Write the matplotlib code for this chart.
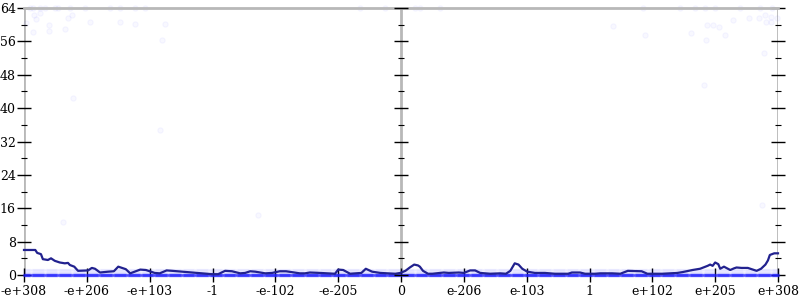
import numpy as np
import matplotlib
matplotlib.use("Agg")
import matplotlib.pyplot as plt

# tick labels along the ordinal axis of doubles
x_labels = ["-e+308", "-e+206", "-e+103", "-1", "-e-102", "-e-205", "0",
            "e-206", "e-103", "1", "e+102", "e+205", "e+308"]

# averaged error (bits) along the ordinal axis (0..12)
avg_x = [0.00, 0.18, 0.21, 0.27, 0.30, 0.38, 0.43, 0.49, 0.57, 0.65, 0.70,
         0.73, 0.80, 0.86, 0.86, 1.02, 1.08, 1.13, 1.21, 1.34, 1.43, 1.50,
         1.56, 1.62, 1.69, 1.85, 1.94, 2.08, 2.16, 2.27, 2.36, 2.99, 3.09,
         3.20, 3.31, 3.44, 3.52, 3.60, 3.68, 3.84, 3.95, 4.07, 4.17, 4.39,
         4.47, 4.55, 4.71, 4.95, 5.00, 5.08, 5.19, 5.37, 5.44, 5.54, 5.67,
         5.91, 5.99, 6.07, 6.14, 6.21, 6.27, 6.30, 6.35, 6.43, 6.50, 6.68,
         6.76, 6.92, 7.00, 7.10, 7.18, 7.26, 7.42, 7.58, 7.67, 7.74, 7.81,
         7.87, 7.93, 8.01, 8.13, 8.29, 8.45, 8.66, 8.72, 8.85, 8.93, 9.09,
         9.17, 9.36, 9.49, 9.61, 9.83, 9.92, 10.16, 10.40, 10.48, 10.64,
         10.76, 10.88, 10.92, 10.96, 11.00, 11.05, 11.08, 11.14, 11.24,
         11.30, 11.34, 11.42, 11.52, 11.66, 11.73, 11.80, 11.84, 11.87,
         11.94, 12.00]
avg_y = [6.0, 6.0, 5.3, 5.0, 3.8, 3.6, 4.0, 3.4, 3.0, 2.8, 2.9,
         2.4, 2.0, 1.0, 1.0, 1.1, 1.7, 1.5, 0.6, 0.8, 0.9, 2.0,
         1.7, 1.4, 0.4, 1.3, 1.2, 0.5, 0.4, 1.1, 1.0, 0.2, 0.2,
         1.0, 0.9, 0.4, 0.5, 0.9, 0.8, 0.4, 0.5, 0.9, 0.9, 0.4,
         0.4, 0.6, 0.5, 0.3, 1.3, 1.2, 0.3, 0.5, 1.5, 0.8, 0.5,
         0.3, 0.5, 1.0, 1.8, 2.5, 2.3, 2.0, 1.0, 0.3, 0.3, 0.6,
         0.5, 0.6, 0.5, 1.1, 1.1, 0.5, 0.3, 0.4, 0.3, 1.0, 2.8,
         2.5, 1.5, 0.8, 0.5, 0.5, 0.3, 0.3, 0.6, 0.6, 0.3, 0.3,
         0.4, 0.4, 0.3, 1.0, 0.9, 0.3, 0.3, 0.5, 0.7, 1.2,
         1.5, 2.2, 2.5, 2.2, 3.0, 2.6, 1.5, 2.0, 1.2,
         1.6, 1.8, 1.7, 1.7, 1.0, 1.5, 2.5, 3.5, 4.8,
         5.2, 5.2]

# faint individual samples with large error
top_x = [0.10, 0.14, 0.25, 0.33, 0.49, 0.54, 0.73, 0.97, 1.37, 1.53, 1.77, 1.93,
         0.16, 0.19, 0.25, 0.40, 0.03, 0.14, 0.40, 0.65, 0.70, 0.76, 1.05,
         1.53, 1.77, 2.24, 2.20, 0.78, 2.16, 0.62, 3.72, 11.75,
         5.35, 5.75, 6.22, 6.30, 6.62,
         9.85, 10.44, 10.68, 10.84, 11.00, 11.40, 11.71, 11.90,
         9.37, 9.88, 10.87, 10.97, 11.06, 10.62, 10.85, 11.16, 11.28,
         11.54, 11.70, 11.79, 11.89, 11.81, 11.89, 11.98, 11.78, 10.82]
top_y = [64, 64, 64, 64, 64, 64, 64, 64, 64, 64, 64, 64,
         62.3, 61.3, 62.7, 60.0, 60.4, 58.3, 58.5, 59.0, 61.6, 62.3, 60.7,
         60.7, 60.2, 60.2, 56.4, 42.4, 34.8, 12.7, 14.4, 16.8,
         64, 64, 64, 64, 64,
         64, 64, 64, 64, 64, 64, 64, 64,
         59.7, 57.6, 59.9, 59.9, 59.5, 58.0, 56.3, 57.6, 61.2,
         61.6, 61.6, 62.3, 61.9, 60.7, 60.7, 61.6, 53.2, 45.6]

# the bulk of samples sit at 0 and about 1 bit of error
low_levels = [0.0, 0.6, 1.2]
low_alpha = [0.5, 0.05, 0.04]

fig = plt.figure(figsize=(8, 3), dpi=100)
ax = fig.add_axes([0.03, 0.0833, 0.9425, 0.89])

grid_x = np.linspace(0, 12, 700)
for lvl, a in zip(low_levels, low_alpha):
    ax.scatter(grid_x, np.full_like(grid_x, lvl), s=6, color="#2222ff",
               alpha=a, linewidths=0, clip_on=False, zorder=2)
ax.scatter(top_x, top_y, s=14, facecolor="#8080ff", edgecolor="#5050ff",
           alpha=0.05, linewidths=0.8, clip_on=False, zorder=2)
ax.plot(avg_x, avg_y, color="#22228f", lw=1.6, zorder=3, clip_on=False)

ax.set_xlim(0, 12)
ax.set_ylim(0, 64)

for s in ["left", "right", "bottom"]:
    ax.spines[s].set_visible(False)
ax.spines["top"].set_color("#b8b8b8")
ax.spines["top"].set_linewidth(2)
for xv in [0, 6, 12]:
    ax.axvline(xv, color="#b8b8b8", lw=2, zorder=1)

ax.set_xticks(range(13))
ax.set_xticklabels(x_labels)
ax.set_yticks(range(0, 65, 8))
ax.set_yticks(range(4, 64, 8), minor=True)

for lab in ax.get_xticklabels() + ax.get_yticklabels():
    lab.set_fontfamily("DejaVu Serif")
    lab.set_fontsize(9)

ax.tick_params(axis="x", direction="inout", length=10, width=1, pad=2,
               colors="black", top=False)
ax.tick_params(axis="y", which="major", direction="inout", length=10, width=1,
               pad=1, left=True, right=True, labelright=False)
ax.tick_params(axis="y", which="minor", direction="inout", length=5, width=0.8,
               left=True, right=True)

# ticks on the middle divider
for yv in range(0, 65, 8):
    ax.plot([6], [yv], marker="_", markersize=10, color="black", mew=1,
            clip_on=False, zorder=4)
for yv in range(4, 64, 8):
    ax.plot([6], [yv], marker="_", markersize=5, color="black", mew=0.8,
            clip_on=False, zorder=4)

fig.savefig("out.png", dpi=100)
